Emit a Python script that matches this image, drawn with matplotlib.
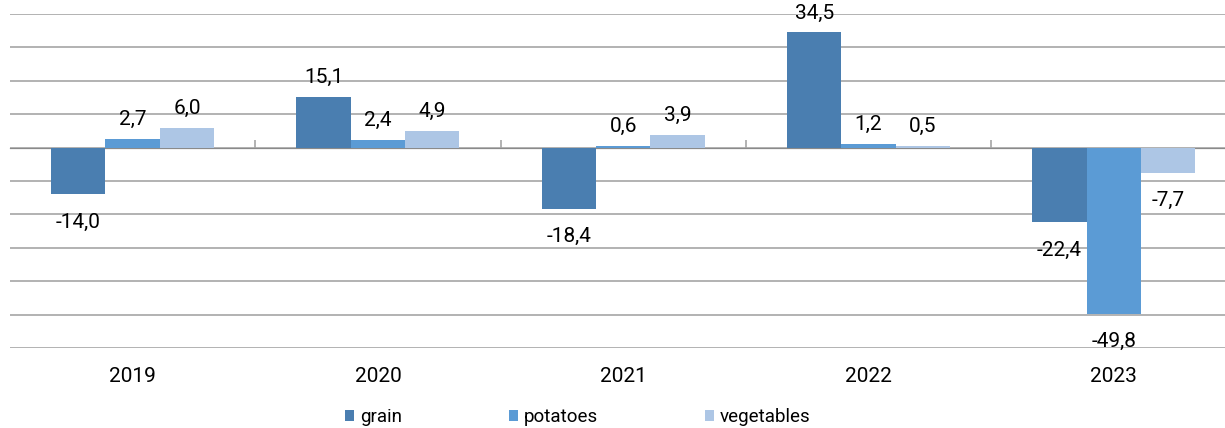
import numpy as np
import matplotlib.pyplot as plt

plt.rcParams['font.family'] = ['Roboto', 'DejaVu Sans']

years = ['2019', '2020', '2021', '2022', '2023']
grain = [-14.0, 15.1, -18.4, 34.5, -22.4]
potatoes = [2.7, 2.4, 0.6, 1.2, -49.8]
vegetables = [6.0, 4.9, 3.9, 0.5, -7.7]

series = [('grain', grain, '#4a7eb0'),
          ('potatoes', potatoes, '#5b9bd5'),
          ('vegetables', vegetables, '#adc6e5')]

fig = plt.figure(figsize=(12.25, 4.28), dpi=100)
ax = fig.add_axes([10/1225, 1 - 348/428, 1215/1225, 334/428])

x = np.arange(len(years))
w = 0.2215
for i, (name, vals, col) in enumerate(series):
    pos = x + (i - 1) * w
    ax.bar(pos, vals, width=w, color=col, label=name, zorder=3)
    for px, v in zip(pos, vals):
        txt = f'{v:.1f}'.replace('.', ',')
        if v >= 0:
            ax.annotate(txt, (px, v), xytext=(0, 10), textcoords='offset points',
                        ha='center', va='baseline', fontsize=15)
        else:
            ax.annotate(txt, (px, v), xytext=(0, -13), textcoords='offset points',
                        ha='center', va='top', fontsize=15)

ax.set_xlim(-0.5, -0.5 + 1215 / 245.3)
ax.set_ylim(-60, 40)
ax.set_yticks(np.arange(-60, 41, 10))
ax.set_yticklabels([])
ax.grid(axis='y', color='#a6a6a6', linewidth=1.2, zorder=0)
ax.set_xticks(x)
ax.set_xticklabels(years, fontsize=15)
ax.tick_params(axis='x', length=0, pad=14)
ax.tick_params(axis='y', length=0)
for s in ax.spines.values():
    s.set_visible(False)

# category separators hanging under the zero line
sec = ax.secondary_xaxis(0.6)
sec.set_xticks(x[:-1] + 0.5)
sec.set_xticklabels([])
sec.tick_params(axis='x', length=6, width=1.2, color='#a6a6a6', direction='out')
sec.spines['bottom'].set_visible(False)

fig.legend(loc='center left', bbox_to_anchor=(345/1225, 1 - 417/428), ncol=3,
           frameon=False, fontsize=13.5, handlelength=0.5, handleheight=0.5,
           handletextpad=0.3, columnspacing=5.7, borderpad=0, borderaxespad=0)

fig.savefig('out.png', dpi=100)
